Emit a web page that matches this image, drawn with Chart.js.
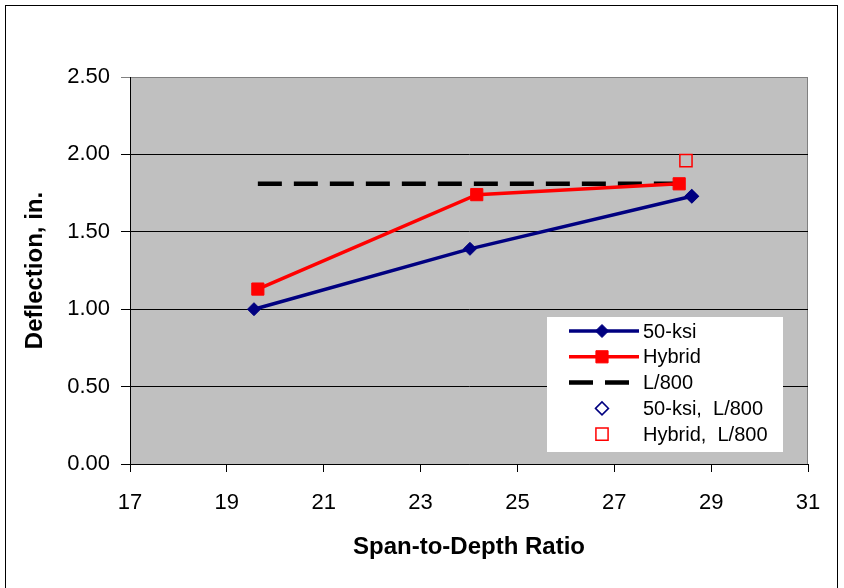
<!DOCTYPE html>
<html>
<head>
<meta charset="utf-8">
<script src="https://cdn.jsdelivr.net/npm/chart.js@4.4.1/dist/chart.umd.min.js"></script>
<style>
  html, body { margin: 0; padding: 0; background: #ffffff; }
  #wrap { width: 844px; height: 588px; position: relative; }
</style>
</head>
<body>
<div id="wrap"><canvas id="c" width="844" height="588"></canvas></div>
<script>
// Deflection vs. span-to-depth ratio for 50-ksi and hybrid girders
const seriesNames = ['50-ksi', 'Hybrid', 'L/800', '50-ksi,  L/800', 'Hybrid,  L/800'];

const ksi50Span = [19.56, 24.02, 28.60];
const ksi50Defl = [1.00, 1.39, 1.73];

const hybridSpan = [19.64, 24.16, 28.34];
const hybridDefl = [1.13, 1.74, 1.81];

const limitSpan = [19.64, 28.34];
const limitDefl = [1.81, 1.81];

const ksi50LimitSpan = [28.60];
const ksi50LimitDefl = [1.73];

const hybridLimitSpan = [28.48];
const hybridLimitDefl = [1.96];

const xTicks = [17, 19, 21, 23, 25, 27, 29, 31];
const yTicks = [0, 0.5, 1.0, 1.5, 2.0, 2.5];

const FONT = "'Liberation Sans', Arial, sans-serif";

function pts(xs, ys) { return xs.map((x, i) => ({ x: x, y: ys[i] })); }

// gray plot area plus the outer chart frame
const backdrop = {
  id: 'backdrop',
  beforeDraw(chart) {
    const { ctx, chartArea: a } = chart;
    ctx.save();
    ctx.fillStyle = '#ffffff';
    ctx.fillRect(0, 0, chart.width, chart.height);
    ctx.strokeStyle = '#000000';
    ctx.lineWidth = 1;
    ctx.strokeRect(5.5, 5.5, 832, 620);
    ctx.fillStyle = '#C0C0C0';
    ctx.fillRect(a.left, a.top, a.right - a.left, a.bottom - a.top);
    ctx.strokeStyle = '#808080';
    ctx.beginPath();
    ctx.moveTo(a.left, a.top + 0.5);
    ctx.lineTo(a.right - 0.5, a.top + 0.5);
    ctx.lineTo(a.right - 0.5, a.bottom);
    ctx.stroke();
    ctx.restore();
  }
};

// legend box drawn inside the plot area
const boxLegend = {
  id: 'boxLegend',
  afterDraw(chart) {
    const { ctx } = chart;
    const bx = 547, by = 317, bw = 236, bh = 135;
    const rowH = 25.8, firstRow = 331;
    ctx.save();
    ctx.fillStyle = '#ffffff';
    ctx.fillRect(bx, by, bw, bh);
    chart.data.datasets.forEach((ds, i) => {
      const y = firstRow + i * rowH;
      const x0 = 569, x1 = 639, xm = 602;
      if (ds.showLine) {
        ctx.save();
        ctx.strokeStyle = ds.borderColor;
        ctx.lineWidth = ds.borderWidth;
        ctx.setLineDash(ds.borderDash || []);
        ctx.beginPath();
        ctx.moveTo(x0, y);
        ctx.lineTo(ds.borderDash ? 629 : x1, y);
        ctx.stroke();
        ctx.restore();
      }
      if (ds.pointRadius > 0) {
        ctx.save();
        ctx.fillStyle = ds.pointBackgroundColor === 'rgba(0,0,0,0)' ? '#ffffff' : ds.pointBackgroundColor;
        ctx.strokeStyle = ds.pointBorderColor;
        ctx.lineWidth = ds.pointBorderWidth;
        Chart.helpers.drawPoint(ctx, {
          pointStyle: ds.pointStyle,
          radius: ds.pointRadius,
          borderWidth: ds.pointBorderWidth,
          rotation: 0
        }, xm, y);
        ctx.restore();
      }
      ctx.fillStyle = '#000000';
      ctx.font = '20px ' + FONT;
      ctx.textAlign = 'left';
      ctx.textBaseline = 'middle';
      ctx.fillText(ds.label, 643, y + 1);
    });
    ctx.restore();
  }
};

const chart = new Chart(document.getElementById('c'), {
  type: 'scatter',
  data: {
    datasets: [
      {
        label: seriesNames[0], data: pts(ksi50Span, ksi50Defl), showLine: true,
        borderColor: '#000080', borderWidth: 3.5,
        pointStyle: 'rectRot', pointRadius: 6.5, pointBackgroundColor: '#000080',
        pointBorderColor: '#000080', pointBorderWidth: 1, order: 3
      },
      {
        label: seriesNames[1], data: pts(hybridSpan, hybridDefl), showLine: true,
        borderColor: '#FF0000', borderWidth: 3.5,
        pointStyle: 'rect', pointRadius: 8.6, pointBackgroundColor: '#FF0000',
        pointBorderColor: '#FF0000', pointBorderWidth: 1, order: 2
      },
      {
        label: seriesNames[2], data: pts(limitSpan, limitDefl), showLine: true,
        borderColor: '#000000', borderWidth: 4.5, borderDash: [24, 12],
        pointRadius: 0, order: 4
      },
      {
        label: seriesNames[3], data: pts(ksi50LimitSpan, ksi50LimitDefl), showLine: false,
        pointStyle: 'rectRot', pointRadius: 6.5, pointBackgroundColor: 'rgba(0,0,0,0)',
        pointBorderColor: '#000080', pointBorderWidth: 1.5, order: 1
      },
      {
        label: seriesNames[4], data: pts(hybridLimitSpan, hybridLimitDefl), showLine: false,
        pointStyle: 'rect', pointRadius: 8.6, pointBackgroundColor: 'rgba(0,0,0,0)',
        pointBorderColor: '#FF0000', pointBorderWidth: 1.5, order: 0
      }
    ]
  },
  options: {
    responsive: false,
    animation: false,
    devicePixelRatio: 1,
    layout: { padding: { left: 0, right: 36, top: 77, bottom: 0 } },
    plugins: { legend: { display: false }, tooltip: { enabled: false } },
    scales: {
      x: {
        type: 'linear', min: 17, max: 31,
        afterBuildTicks(s) { s.ticks = xTicks.map(v => ({ value: v })); },
        afterFit(s) { s.height = 124; },
        grid: { drawOnChartArea: false, drawTicks: true, tickLength: 8, color: '#000000', lineWidth: 1 },
        border: { color: '#000000', width: 1 },
        ticks: { color: '#000000', font: { family: FONT, size: 22 }, padding: 18, maxRotation: 0 },
        title: {
          display: true, text: 'Span-to-Depth Ratio', color: '#000000',
          font: { family: FONT, size: 24, weight: 'bold' }, padding: { top: 0, bottom: 26 }
        }
      },
      y: {
        type: 'linear', min: 0, max: 2.5,
        afterBuildTicks(s) { s.ticks = yTicks.map(v => ({ value: v })); },
        afterFit(s) { s.width = 130; },
        grid: {
          drawTicks: true, tickLength: 9, lineWidth: 1,
          color: (c) => (c.tick && c.tick.value === 2.5) ? '#808080' : '#000000'
        },
        border: { color: '#000000', width: 1 },
        ticks: {
          color: '#000000', font: { family: FONT, size: 22 }, padding: 11,
          callback: (v) => Number(v).toFixed(2)
        },
        title: {
          display: true, text: 'Deflection, in.', color: '#000000',
          font: { family: FONT, size: 24, weight: 'bold' }, padding: { top: 21, bottom: 0 }
        }
      }
    }
  },
  plugins: [backdrop, boxLegend]
});
</script>
</body>
</html>
